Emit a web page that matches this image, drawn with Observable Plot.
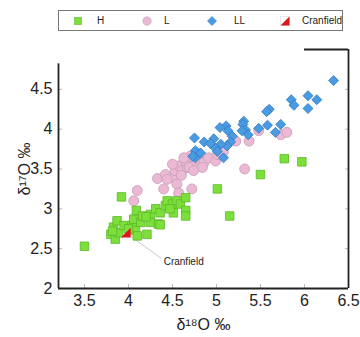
<!DOCTYPE html>
<html>
<head>
<meta charset="utf-8">
<script src="https://cdn.jsdelivr.net/npm/d3@7"></script>
<script src="https://cdn.jsdelivr.net/npm/@observablehq/plot@0.6"></script>
<style>
  body { margin: 0; background: #fff; font-family: "Liberation Sans", Arial, sans-serif; }
  #wrap { position: relative; width: 360px; height: 337px; }
  #legend { position: absolute; left: 58px; top: 10px; width: 285px; height: 21px; border: 1px solid #777; box-sizing: border-box; }
  #legend span { position: absolute; top: 4px; font-size: 10px; color: #222; }
</style>
</head>
<body>
<div id="wrap">
  <div id="chart"></div>
  <div id="legend"></div>
</div>
<script>
// Data
const hX = [3.50,3.92,3.80,3.83,3.85,3.87,3.89,3.95,3.82,4.04,4.06,4.08,4.09,4.10,4.14,4.16,4.21,4.25,4.25,4.31,4.34,4.36,4.36,4.42,4.44,4.50,4.51,4.55,4.59,4.65,4.65,4.65,4.20,4.00,4.47,5.01,5.15,5.50,5.77,5.97];
const hY = [2.53,3.15,2.68,2.77,2.62,2.85,2.70,2.79,2.72,2.79,2.87,2.73,2.98,2.66,2.83,2.91,2.68,2.93,2.83,3.00,2.81,2.95,2.80,3.04,3.10,3.06,2.95,3.10,3.06,3.14,2.98,2.91,2.90,2.75,3.00,3.25,2.91,3.43,3.63,3.59];

const lX = [4.06,4.10,4.33,4.43,4.51,4.40,4.55,4.55,4.42,4.44,4.53,4.57,4.61,4.67,4.65,4.70,4.76,4.80,4.86,4.91,4.99,4.84,4.57,4.72,4.63,4.69,4.74,5.01,5.22,5.37,5.32,5.48,5.73,5.80,5.08,4.60,4.50,4.78];
const lY = [3.10,3.23,3.38,3.41,3.39,3.25,3.48,3.31,3.43,3.37,3.48,3.54,3.48,3.52,3.60,3.66,3.56,3.62,3.58,3.64,3.60,3.52,3.20,3.25,3.64,3.52,3.48,3.68,3.85,3.85,3.50,3.98,3.93,3.96,3.72,3.42,3.56,3.70];

const llX = [6.33,6.04,6.14,6.04,5.85,5.88,5.60,5.57,5.31,5.30,5.33,5.29,5.36,5.48,5.58,5.73,5.67,5.11,5.04,5.13,4.97,5.18,5.16,5.12,5.05,4.99,4.75,4.86,4.76,4.82,4.76,5.08,5.01,4.73,4.93];
const llY = [4.61,4.42,4.37,4.26,4.37,4.30,4.25,4.22,4.10,4.06,3.99,3.98,3.93,4.01,4.05,4.06,3.96,4.04,4.02,3.98,3.88,3.91,3.84,3.79,3.81,3.76,3.89,3.84,3.73,3.70,3.64,3.64,3.72,3.66,3.82];

const cranfieldX = [3.97];
const cranfieldY = [2.70];
const cranfieldLabel = "Cranfield";
const cranfieldLabelX = [4.40];
const cranfieldLabelY = [2.33];

const xTicks = [3.5, 4, 4.5, 5, 5.5, 6, 6.5];
const yTicks = [2, 2.5, 3, 3.5, 4, 4.5];
const xLabel = "δ¹⁸O ‰";
const yLabel = "δ¹⁷O ‰";
const legendLabels = ["H", "L", "LL", "Cranfield"];

const toRows = (xs, ys) => xs.map((x, i) => ({x, y: ys[i]}));
const H = toRows(hX, hY);
const L = toRows(lX, lY);
const LL = toRows(llX, llY);
const C = toRows(cranfieldX, cranfieldY);
const CL = toRows(cranfieldLabelX, cranfieldLabelY);

const triangle = {
  draw(ctx, size) {
    const r = Math.sqrt(size) / 2;
    ctx.moveTo(r, -r);
    ctx.lineTo(r, r);
    ctx.lineTo(-r, r);
    ctx.closePath();
  }
};

const X0 = 3.205, X1 = 6.5, Y0 = 2, Y1 = 5;
const fmt = d => String(d);

const chart = Plot.plot({
  width: 360,
  height: 337,
  marginLeft: 58,
  marginRight: 12,
  marginTop: 49,
  marginBottom: 49,
  style: {fontFamily: "Liberation Sans, Arial, sans-serif", background: "#fff"},
  x: {domain: [X0, X1]},
  y: {domain: [Y0, Y1]},
  marks: [
    // inward faint ticks
    Plot.axisX({ticks: xTicks, tickSize: -4, stroke: "#bbb", text: null, label: null}),
    Plot.axisY({ticks: yTicks, tickSize: -4, stroke: "#bbb", text: null, label: null}),
    Plot.axisY({ticks: yTicks.slice(1), anchor: "right", tickSize: -4, stroke: "#bbb", text: null, label: null}),
    Plot.axisX({ticks: xTicks, tickFormat: fmt, tickSize: 0, tickPadding: 6, fontSize: 16, fill: "#222",
      label: xLabel, labelAnchor: "center", labelArrow: "none", labelOffset: 41}),
    Plot.axisY({ticks: yTicks, tickFormat: fmt, tickSize: 0, tickPadding: 6, fontSize: 16, fill: "#222",
      label: yLabel, labelAnchor: "center", labelArrow: "none", labelOffset: 40}),
    // frame pieces
    Plot.ruleY([Y0], {x1: X0, x2: X1, stroke: "#222", strokeWidth: 1.8}),
    Plot.ruleX([X0], {y1: Y0, y2: 4.82, stroke: "#222", strokeWidth: 1.8}),
    Plot.ruleX([X1], {y1: Y0, y2: Y1, stroke: "#222", strokeWidth: 1.8}),
    Plot.ruleY([Y1], {x1: 6.0, x2: X1, stroke: "#222", strokeWidth: 1.8}),
    // annotation
    Plot.link(C, {x1: "x", y1: "y", x2: () => cranfieldLabelX[0] - 0.03, y2: () => cranfieldLabelY[0] + 0.05, stroke: "#ccc", strokeWidth: 1}),
    Plot.text(CL, {x: "x", y: "y", text: () => cranfieldLabel, textAnchor: "start", fontSize: 10, fill: "#222"}),
    // data
    Plot.dot(L, {x: "x", y: "y", symbol: "circle", r: 5, fill: "#ebb9d4", stroke: "#c79db5", strokeWidth: 0.8}),
    Plot.dot(H, {x: "x", y: "y", symbol: "square", r: 4.8, fill: "#7de03a", stroke: "#5cb828", strokeWidth: 0.8}),
    Plot.dot(LL, {x: "x", y: "y", symbol: "diamond2", r: 4.5, fill: "#4b9be3", stroke: "#2e77c0", strokeWidth: 0.8}),
    Plot.dot(C, {x: "x", y: "y", symbol: triangle, r: 5.5, fill: "#e0141b", stroke: "none"})
  ]
});
document.getElementById("chart").appendChild(chart);

// Legend
const legend = document.getElementById("legend");
const items = [
  {label: legendLabels[0], sym: `<rect x="-3.5" y="-3.5" width="7" height="7" fill="#7de03a" stroke="#5cb828" stroke-width="0.6"/>`, mx: 19, tx: 38},
  {label: legendLabels[1], sym: `<circle r="4.2" fill="#ebb9d4" stroke="#c79db5" stroke-width="0.6"/>`, mx: 88, tx: 105},
  {label: legendLabels[2], sym: `<path d="M0,-4.5L4.5,0L0,4.5L-4.5,0Z" fill="#4b9be3" stroke="#2e77c0" stroke-width="0.6"/>`, mx: 153, tx: 175},
  {label: legendLabels[3], sym: `<rect x="-4.5" y="-4.5" width="9" height="9" fill="#fff" stroke="#ddd" stroke-width="0.6"/><path d="M4.5,-4.5L4.5,4.5L-4.5,4.5Z" fill="#e0141b"/>`, mx: 226, tx: 243}
];
for (const it of items) {
  const s = document.createElementNS("http://www.w3.org/2000/svg", "svg");
  s.setAttribute("width", 12); s.setAttribute("height", 12);
  s.setAttribute("viewBox", "-6 -6 12 12");
  s.style.position = "absolute"; s.style.left = (it.mx - 6) + "px"; s.style.top = "4px";
  s.innerHTML = it.sym;
  legend.appendChild(s);
  const t = document.createElement("span");
  t.textContent = it.label;
  t.style.left = it.tx + "px";
  legend.appendChild(t);
}
</script>
</body>
</html>
